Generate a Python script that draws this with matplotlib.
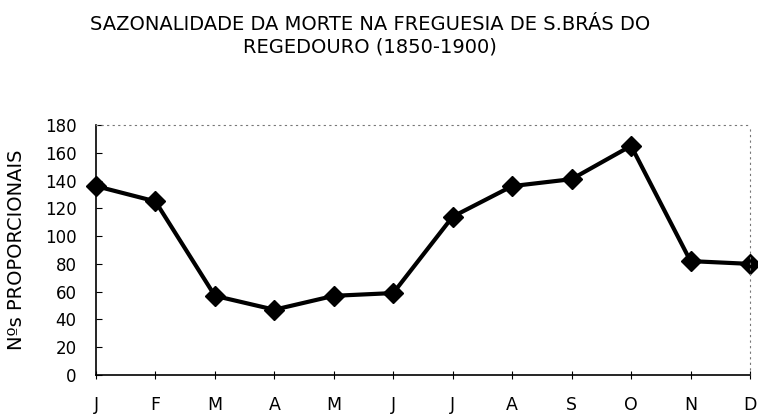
import matplotlib.pyplot as plt
import numpy as np

plt.rcParams['font.family'] = ['DejaVu Sans']

# meses e numeros proporcionais de obitos
meses = ['J', 'F', 'M', 'A', 'M', 'J', 'J', 'A', 'S', 'O', 'N', 'D']
valores = [136, 125, 57, 47, 57, 59, 114, 136, 141, 165, 82, 80]
ticks_y = [0, 20, 40, 60, 80, 100, 120, 140, 160, 180]

titulo = 'SAZONALIDADE DA MORTE NA FREGUESIA DE S.BRÁS DO\nREGEDOURO (1850-1900)'

fig = plt.figure(figsize=(7.58, 4.15), dpi=100)
ax = fig.add_axes([0.1266, 0.0964, 0.8628, 0.6024])

x = np.arange(len(meses))
ax.plot(x, valores, color='black', linewidth=3, marker='D', markersize=10,
        markerfacecolor='black', markeredgecolor='black', clip_on=False)

ax.set_xlim(0, len(meses) - 1)
ax.set_ylim(0, 180)
ax.set_xticks(x)
ax.set_xticklabels(meses, fontsize=12.5)
ax.set_yticks(ticks_y)
ax.tick_params(axis='y', labelsize=12, direction='in', length=4, pad=14)
ax.tick_params(axis='x', direction='inout', length=6, pad=12)

ax.set_ylabel('Nºs PROPORCIONAIS', fontsize=14)
ax.yaxis.set_label_coords(-0.107, 0.5)

# moldura: eixos cheios, topo e direita pontilhados
ax.spines['left'].set_linewidth(1.2)
ax.spines['bottom'].set_linewidth(1.2)
for lado in ['top', 'right']:
    ax.spines[lado].set_linestyle((0, (1, 4)))
    ax.spines[lado].set_linewidth(0.8)
    ax.spines[lado].set_color('#777777')

fig.text(0.488, 0.914, titulo, ha='center', va='center', fontsize=14,
         linespacing=1.25)

fig.savefig('out.png', dpi=100)
